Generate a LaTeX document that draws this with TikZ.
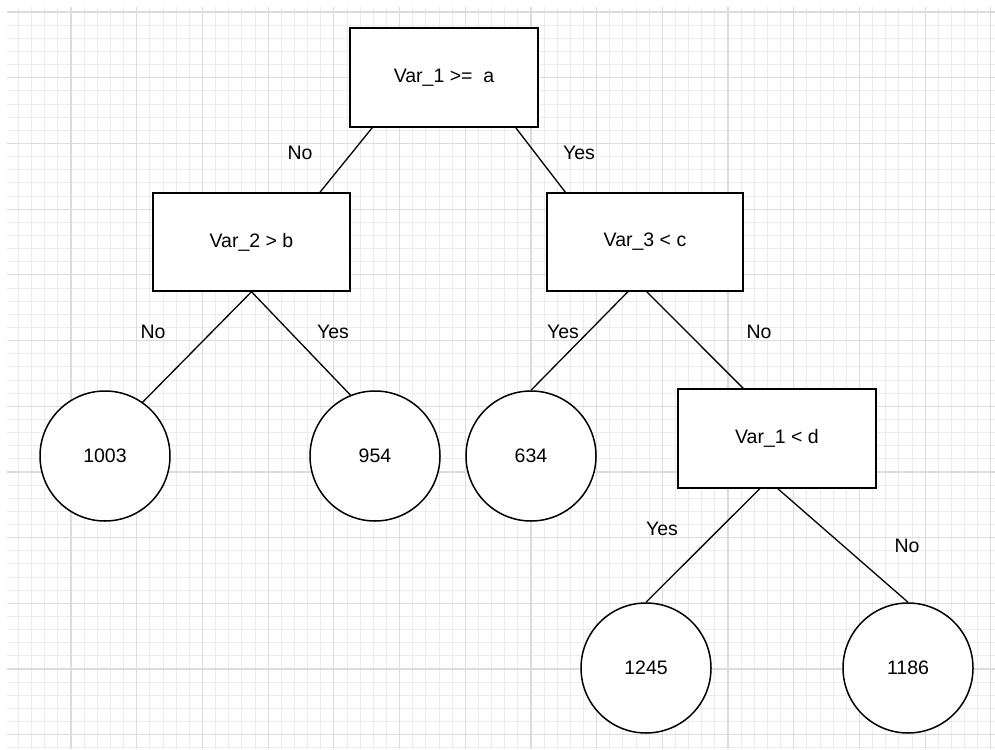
\documentclass[tikz,border=0pt]{standalone}
\usepackage{fontspec}
\setmainfont{Liberation Sans}
\definecolor{gridmajor}{RGB}{220,220,220}
\definecolor{gridminor}{RGB}{236,236,236}

\begin{document}
\begin{tikzpicture}[x=1pt, y=-1pt,
    font=\fontsize{19.5}{22}\selectfont,
    testbox/.style={draw, line width=1.5pt, fill=white, inner sep=0pt},
    leaf/.style={draw, circle, line width=1.5pt, fill=white, minimum size=130pt, inner sep=0pt},
    edge/.style={line width=1.3pt},
    branchlabel/.style={inner sep=0pt}]

  \useasboundingbox (0,0) rectangle (995,749);

  % Background grid
  \begin{scope}
    \clip (7,7) rectangle (995,749);
    \foreach \i in {0,...,75}{
      \draw[gridminor, line width=0.8pt] ({5.3+\i*13.14},7) -- ({5.3+\i*13.14},749);
    }
    \foreach \j in {0,...,57}{
      \draw[gridminor, line width=0.8pt] (7,{-1.14+\j*13.14}) -- (995,{-1.14+\j*13.14});
    }
    \foreach \i in {0,...,15}{
      \draw[gridmajor, line width=1.2pt] ({5.3+\i*65.7},7) -- ({5.3+\i*65.7},749);
    }
    \foreach \j in {0,...,11}{
      \draw[gridmajor, line width=1.2pt] (7,{12+\j*65.7}) -- (995,{12+\j*65.7});
    }
  \end{scope}

  % Split nodes
  \node[testbox, minimum width=188pt, minimum height=99pt] (root) at (444,77.5) {Var\_1 >=\ \ a};
  \node[testbox, minimum width=197pt, minimum height=98pt] (vtwo) at (251.5,242) {Var\_2 > b};
  \node[testbox, minimum width=196pt, minimum height=98pt] (vthree) at (645,242) {Var\_3 < c};
  \node[testbox, minimum width=198pt, minimum height=99pt] (vfour) at (777,438.5) {Var\_1 < d};

  % Leaves
  \node[leaf] (leafa) at (105,456) {1003};
  \node[leaf] (leafb) at (375,456) {954};
  \node[leaf] (leafc) at (531,456) {634};
  \node[leaf] (leafd) at (646,668) {1245};
  \node[leaf] (leafe) at (908,668) {1186};

  % Branches
  \draw[edge] (root.215.6) -- (vtwo.36.4);
  \draw[edge] (root.325.5) -- (vthree.148.5);
  \draw[edge] (vtwo.south) -- (leafa.55.8);
  \draw[edge] (vtwo.south) -- (leafb.112.6);
  \draw[edge] (vthree.251) -- (leafc.north);
  \draw[edge] (vthree.272) -- (vfour.124.5);
  \draw[edge] (vfour.251) -- (leafd.north);
  \draw[edge] (vfour.271) -- (leafe.north);

  % Branch labels
  \node[branchlabel] (rootno) at (300,153) {No};
  \node[branchlabel] (rootyes) at (579,153) {Yes};
  \node[branchlabel] (vtwono) at (153,332) {No};
  \node[branchlabel] (vtwoyes) at (333,332) {Yes};
  \node[branchlabel] (vthreeyes) at (563,332) {Yes};
  \node[branchlabel] (vthreeno) at (759,332) {No};
  \node[branchlabel] (vfouryes) at (662,529) {Yes};
  \node[branchlabel] (vfourno) at (907,546) {No};

\end{tikzpicture}
\end{document}
